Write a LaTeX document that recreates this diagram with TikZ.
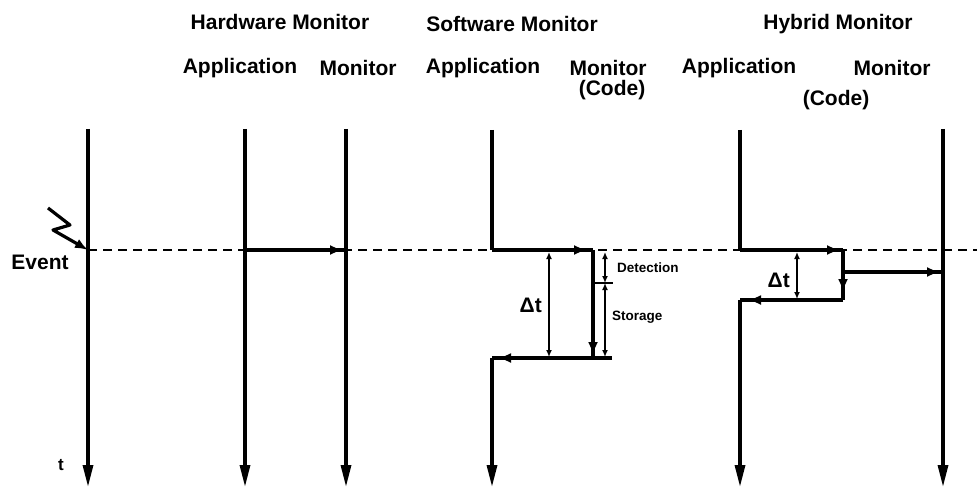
\documentclass[tikz,border=0pt]{standalone}
\usepackage{fontspec}
\setmainfont{Liberation Sans}
\usetikzlibrary{arrows.meta, positioning, calc, decorations.markings}

\begin{document}
\begin{tikzpicture}[x=1pt, y=-1pt,
  head/.style={font=\bfseries\fontsize{21}{23}\selectfont, inner sep=0pt},
  note/.style={font=\bfseries\fontsize{13.5}{15}\selectfont, inner sep=0pt, anchor=west},
  timeline/.style={line width=3.2pt, -{Triangle[length=22pt,width=10pt]}},
  msg/.style={line width=3.2pt},
  tipat/.style={postaction={decorate}, decoration={markings,
      mark=at position #1 with {\arrow{Latex[length=13pt,width=10pt]}}}},
  dim/.style={line width=1.8pt, {Latex[length=7pt,width=6pt]}-{Latex[length=7pt,width=6pt]}}
]
  \useasboundingbox (0,0) rectangle (977,489);

  % headings
  \node[head] (hwT) at (280,22) {Hardware Monitor};
  \node[head] (swT) at (512,24) {Software Monitor};
  \node[head] (hyT) at (838,24) {Hybrid Monitor};
  \node[head] (hwA) at (240,68) {Application};
  \node[head] (hwM) at (358,68) {Monitor};
  \node[head] (swA) at (483,68) {Application};
  \node[head] (swM) at (608,68) {Monitor};
  \node[head] (swC) at (612,90) {(Code)};
  \node[head] (hyA) at (739,68) {Application};
  \node[head] (hyM) at (892,68) {Monitor};
  \node[head] (hyC) at (836,100) {(Code)};

  % time lines
  \foreach \n/\x in {ev/88, hwa/245, hwm/346, hym/943} {
    \coordinate (\n-top) at (\x,129);
    \coordinate (\n-bot) at (\x,487);
    \draw[timeline] (\n-top) -- (\n-bot);
  }
  \foreach \n/\x/\y in {swa/492/358, hya/740/300} {
    \coordinate (\n-top) at (\x,130);
    \coordinate (\n-hit) at (\x,250);
    \coordinate (\n-back) at (\x,\y);
    \coordinate (\n-bot) at (\x,487);
    \draw[line width=3.2pt] (\n-top) -- (\n-hit);
    \draw[timeline] (\n-back) -- (\n-bot);
  }

  % event
  \coordinate (evhit) at (88,250);
  \coordinate (evend) at (977,250);
  \draw[line width=2.8pt, dash pattern=on 9pt off 6pt] (evhit) -- (evend);
  \draw[line width=3.2pt, line join=round, -{Latex[length=13pt,width=10pt]}]
    (48,208) -- (70,225) -- (53,230) -- (evhit);
  \node[head] (event) at (40,262) {Event};
  \node[head, font=\bfseries\fontsize{17}{19}\selectfont] (tlabel) at (61,465) {t};

  % hardware monitor
  \coordinate (hwahit) at (245,250);
  \coordinate (hwmhit) at (346,250);
  \draw[msg, tipat=-3pt] (hwahit) -- (hwmhit);

  % software monitor
  \coordinate (swctop) at (593,250);
  \coordinate (swcbot) at (593,358);
  \coordinate (swret) at (612,358);
  \draw[msg, tipat=-6pt] (swa-hit) -- (swctop);
  \draw[line width=3.2pt, tipat=-3pt] (swctop) -- (swcbot);
  \draw[msg, tipat=-6pt] (swret) -- (swa-back);
  \coordinate (dt1a) at (549,252);
  \coordinate (dt1b) at (549,357);
  \draw[dim] (dt1a) -- (dt1b);
  \node[head, anchor=east] (dt1) at (542,305) {Δt};
  \coordinate (dsa) at (605,252);
  \coordinate (dsb) at (605,283);
  \coordinate (dsc) at (605,357);
  \coordinate (tickl) at (592,283);
  \coordinate (tickr) at (613,283);
  \draw[dim] (dsa) -- (dsb);
  \draw[dim] (dsb) -- (dsc);
  \draw[line width=2pt] (tickl) -- (tickr);
  \node[note] (detect) at (617,268) {Detection};
  \node[note] (store) at (612,317) {Storage};

  % hybrid monitor
  \coordinate (hyctop) at (843,250);
  \coordinate (hycmid) at (843,272);
  \coordinate (hycbot) at (843,300);
  \coordinate (hymhit) at (943,272);
  \draw[msg, tipat=-3pt] (hya-hit) -- (hyctop);
  \draw[msg, tipat=-8pt] (hyctop) -- (hycbot);
  \draw[msg, tipat=-3pt] (hycmid) -- (hymhit);
  \draw[msg, tipat=-8pt] (hycbot) -- (hya-back);
  \coordinate (dt2a) at (797,252);
  \coordinate (dt2b) at (797,299);
  \draw[dim] (dt2a) -- (dt2b);
  \node[head, anchor=east] (dt2) at (790,280) {Δt};
\end{tikzpicture}
\end{document}
